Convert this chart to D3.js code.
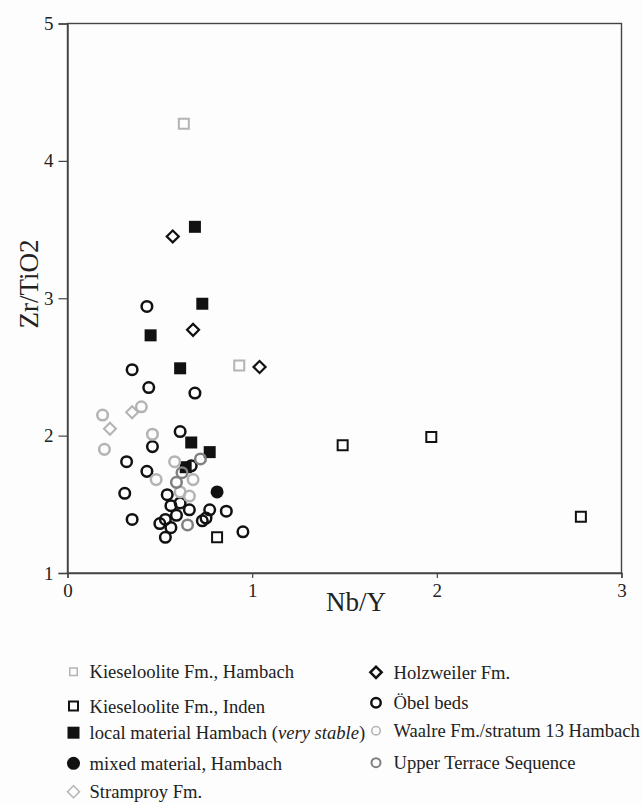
<!DOCTYPE html>
<html>
<head>
<meta charset="utf-8">
<script src="https://cdn.jsdelivr.net/npm/d3@7"></script>
<style>
  body { margin: 0; background: #fdfdfd; }
  text { font-family: "Liberation Serif", "Times New Roman", serif; fill: #222; }
</style>
</head>
<body>
<div id="vis"></div>
<script>
// Zr/TiO2 versus Nb/Y scatter

const FRAME_WIDTH = 643;
const FRAME_HEIGHT = 803;
const MARGINS = {left: 67.5, right: 21.5, top: 23.5, bottom: 230};

// values, [Nb/Y, Zr/TiO2]
const kieselHambach = [[0.63, 4.27], [0.93, 2.51]];
const kieselInden = [[0.81, 1.26], [1.49, 1.93], [1.97, 1.99], [2.78, 1.41]];
const localHambach = [[0.69, 3.52], [0.73, 2.96], [0.45, 2.73], [0.61, 2.49],
                      [0.67, 1.95], [0.77, 1.88], [0.64, 1.77]];
const mixedHambach = [[0.81, 1.59]];
const stramproy = [[0.35, 2.17], [0.23, 2.05]];
const holzweiler = [[0.57, 3.45], [0.68, 2.77], [1.04, 2.50]];
const obelBeds = [[0.43, 2.94], [0.35, 2.48], [0.44, 2.35], [0.69, 2.31], [0.61, 2.03],
                  [0.46, 1.92], [0.32, 1.81], [0.43, 1.74], [0.67, 1.78], [0.31, 1.58],
                  [0.54, 1.57], [0.56, 1.49], [0.61, 1.51], [0.59, 1.42], [0.66, 1.46],
                  [0.77, 1.46], [0.86, 1.45], [0.35, 1.39], [0.50, 1.36], [0.53, 1.39],
                  [0.56, 1.33], [0.53, 1.26], [0.73, 1.38], [0.75, 1.40], [0.95, 1.30]];
const waalre = [[0.19, 2.15], [0.40, 2.21], [0.20, 1.90], [0.46, 2.01], [0.58, 1.81],
                [0.48, 1.68], [0.68, 1.68], [0.61, 1.59], [0.66, 1.56]];
const upperTerrace = [[0.72, 1.83], [0.62, 1.73], [0.59, 1.66], [0.65, 1.35]];

const xTicks = [0, 1, 2, 3];
const yTicks = [1, 2, 3, 4, 5];

const LIGHT = "#b4b4b4";
const MID = "#808080";
const DARK = "#111";

// series styling, in drawing order
const series = [
  {name: "Kieseloolite Fm., Hambach", data: kieselHambach, shape: "square", fill: "none", stroke: LIGHT, sw: 2, size: 100,
   lsize: 56, lsw: 1.5},
  {name: "Kieseloolite Fm., Inden", data: kieselInden, shape: "square", fill: "none", stroke: DARK, sw: 2, size: 100,
   lsize: 81, lsw: 2},
  {name: "local material Hambach", data: localHambach, shape: "square", fill: DARK, stroke: "none", sw: 0, size: 144,
   lsize: 144, lsw: 0, italic: "very stable"},
  {name: "mixed material, Hambach", data: mixedHambach, shape: "circle", fill: DARK, stroke: "none", sw: 0, size: 133,
   lsize: 133, lsw: 0},
  {name: "Stramproy Fm.", data: stramproy, shape: "diamond", fill: "none", stroke: LIGHT, sw: 2, size: 72,
   lsize: 72, lsw: 1.5},
  {name: "Holzweiler Fm.", data: holzweiler, shape: "diamond", fill: "none", stroke: DARK, sw: 2.2, size: 72,
   lsize: 64, lsw: 2.5},
  {name: "Öbel beds", data: obelBeds, shape: "circle", fill: "none", stroke: DARK, sw: 2.5, size: 88,
   lsize: 70, lsw: 2.5},
  {name: "Waalre Fm./stratum 13 Hambach", data: waalre, shape: "circle", fill: "none", stroke: LIGHT, sw: 2.5, size: 88,
   lsize: 56, lsw: 1.6},
  {name: "Upper Terrace Sequence", data: upperTerrace, shape: "circle", fill: "none", stroke: MID, sw: 2.5, size: 88,
   lsize: 64, lsw: 2}
];

const shapeType = {square: d3.symbolSquare, circle: d3.symbolCircle, diamond: d3.symbolSquare};
const symbolPath = (shape, size) => d3.symbol().type(shapeType[shape]).size(size)();
const rot = s => s.shape === "diamond" ? " rotate(45)" : "";

const svg = d3.select("#vis")
  .append("svg")
    .attr("width", FRAME_WIDTH)
    .attr("height", FRAME_HEIGHT);

const xScale = d3.scaleLinear()
  .domain([0, 3])
  .range([MARGINS.left, FRAME_WIDTH - MARGINS.right]);

const yScale = d3.scaleLinear()
  .domain([1, 5])
  .range([FRAME_HEIGHT - MARGINS.bottom, MARGINS.top]);

// frame
svg.append("rect")
  .attr("x", xScale(0))
  .attr("y", yScale(5))
  .attr("width", xScale(3) - xScale(0))
  .attr("height", yScale(1) - yScale(5))
  .attr("fill", "none")
  .attr("stroke", "#444")
  .attr("stroke-width", 1.4);

// axes
const xAxis = svg.append("g")
  .attr("transform", `translate(0, ${yScale(1)})`)
  .call(d3.axisBottom(xScale).tickValues(xTicks).tickSize(5).tickPadding(6).tickFormat(d3.format("d")));

const yAxis = svg.append("g")
  .attr("transform", `translate(${xScale(0)}, 0)`)
  .call(d3.axisLeft(yScale).tickValues(yTicks).tickSize(9).tickPadding(5).tickFormat(d3.format("d")));

[xAxis, yAxis].forEach(g => {
  g.attr("font-family", null);
  g.select(".domain").attr("stroke", "#444").attr("stroke-width", 1.4);
  g.selectAll(".tick line").attr("stroke", "#444").attr("stroke-width", 1.2);
  g.selectAll(".tick text")
    .style("font-family", "'Liberation Serif', serif")
    .attr("font-size", 19)
    .attr("fill", "#222");
});

// axis titles
svg.append("text")
  .attr("x", 356)
  .attr("y", 611)
  .attr("text-anchor", "middle")
  .attr("font-size", 27)
  .text("Nb/Y");

svg.append("text")
  .attr("transform", "translate(38, 284) rotate(-90)")
  .attr("text-anchor", "middle")
  .attr("font-size", 27)
  .text("Zr/TiO2");

// points
series.forEach(s => {
  svg.append("g")
    .selectAll("path")
    .data(s.data)
    .enter()
    .append("path")
      .attr("d", symbolPath(s.shape, s.size))
      .attr("transform", d => `translate(${xScale(d[0])}, ${yScale(d[1])})${rot(s)}`)
      .attr("fill", s.fill)
      .attr("stroke", s.stroke)
      .attr("stroke-width", s.sw);
});

// legend, two columns
const legendCols = [
  {sx: 73.5, tx: 89.5, rows: [671.7, 706, 732.7, 763.3, 791.7], items: series.slice(0, 5)},
  {sx: 376, tx: 393.5, rows: [672.3, 702.7, 730.7, 762.7], items: series.slice(5)}
];

legendCols.forEach(col => {
  col.items.forEach((s, i) => {
    const y = col.rows[i];
    svg.append("path")
      .attr("d", symbolPath(s.shape, s.lsize))
      .attr("transform", `translate(${col.sx}, ${y})${rot(s)}`)
      .attr("fill", s.fill)
      .attr("stroke", s.stroke)
      .attr("stroke-width", s.lsw);

    const t = svg.append("text")
      .attr("x", col.tx)
      .attr("y", y)
      .attr("dy", "0.36em")
      .attr("font-size", 18.6);
    if (s.italic) {
      t.append("tspan").text(s.name + " (");
      t.append("tspan").attr("font-style", "italic").text(s.italic);
      t.append("tspan").text(")");
    } else {
      t.text(s.name);
    }
  });
});
</script>
</body>
</html>
